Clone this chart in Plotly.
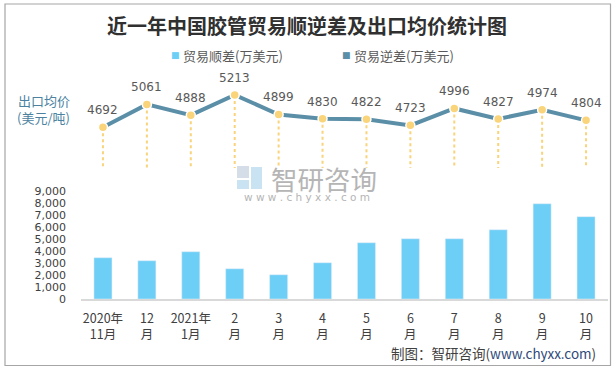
import plotly.graph_objects as go

# ---------------- data ----------------
categories = ["2020年<br>11月", "12<br>月", "2021年<br>1月", "2<br>月", "3<br>月", "4<br>月",
              "5<br>月", "6<br>月", "7<br>月", "8<br>月", "9<br>月", "10<br>月"]
surplus = [3440, 3190, 3940, 2520, 2020, 3020, 4690, 5020, 5020, 5770, 7940, 6860]   # 贸易顺差(万美元)
export_price = [4692, 5061, 4888, 5213, 4899, 4830, 4822, 4723, 4996, 4827, 4974, 4804]  # 出口均价(美元/吨)
y_ticks = [0, 1000, 2000, 3000, 4000, 5000, 6000, 7000, 8000, 9000]
y_tick_text = ["0", "1,000", "2,000", "3,000", "4,000", "5,000", "6,000", "7,000", "8,000", "9,000"]
series_names = ["贸易顺差(万美元)", "贸易逆差(万美元)"]
DROP_BASE = 4035  # value where the drop lines end on the price axis

BAR_COLOR = "#6DCFF6"
LINE_COLOR = "#5B8FA8"
MARKER_COLOR = "#F9D47A"
CJK = "Noto Sans CJK SC"

fig = go.Figure()

fig.add_trace(go.Bar(
    x=categories, y=surplus, marker_color=BAR_COLOR, width=0.41,
    name=series_names[0], showlegend=False, yaxis="y",
))

# drop lines
for c, v in zip(categories, export_price):
    fig.add_trace(go.Scatter(
        x=[c, c], y=[v, DROP_BASE], mode="lines", yaxis="y2",
        line=dict(color=MARKER_COLOR, width=2, dash="dot"),
        showlegend=False, hoverinfo="skip",
    ))

fig.add_trace(go.Scatter(
    x=categories, y=export_price, mode="lines+markers", yaxis="y2",
    line=dict(color=LINE_COLOR, width=4),
    marker=dict(color=MARKER_COLOR, size=9, line=dict(color="white", width=1.5)),
    name=series_names[1], showlegend=False,
))

annotations = []
for c, v in zip(categories, export_price):
    annotations.append(dict(
        x=c, y=v, xref="x", yref="y2", text=str(v), showarrow=False, yshift=17,
        xanchor="center", yanchor="middle",
        font=dict(family="DejaVu Sans", size=12, color="#595959"),
    ))

# paper coordinate helpers (plot area: x 81..608, y 80..299)
def px(x):
    return (x - 81) / 527.0

def py(y):
    return (299 - y) / 219.0

def note(x, y, text, size, color, family=CJK, xanchor="center"):
    annotations.append(dict(
        x=px(x), y=py(y), xref="paper", yref="paper", showarrow=False,
        xanchor=xanchor, yanchor="middle", text=text,
        font=dict(family=family, size=size, color=color),
    ))

# title
note(306.5, 26, "<b>近一年中国胶管贸易顺逆差及出口均价统计图</b>", 20, "#303030")
# legend
note(175, 55.5, "■", 9, BAR_COLOR, family="DejaVu Sans")
note(181, 55.5, series_names[0], 13, "#595959", xanchor="left")
note(346.5, 55.5, "■", 9, LINE_COLOR, family="DejaVu Sans")
note(352, 55.5, series_names[1], 13, "#595959", xanchor="left")
# price axis caption
note(16, 100, "出口均价", 13, "#4A82A0", xanchor="left")
note(15, 117, "(美元/吨)", 13, "#4A82A0", xanchor="left")
# watermark
note(269, 178, "智研咨询", 26.5, "#B5B5B5", xanchor="left")
note(307, 197, "w w w . c h y x x . c o m", 10.5, "#B5B5B5", family="DejaVu Sans")
# source
note(598, 353, "制图：智研咨询(<span style='color:#2F4A7A'>www.chyxx.com</span>)", 13.5, "#404040",
     xanchor="right")

shapes = [
    # outer border
    dict(type="rect", xref="paper", yref="paper", x0=px(5), x1=px(610.5), y0=py(365.5), y1=py(4),
         line=dict(color="#A6A6A6", width=1.2), fillcolor="rgba(0,0,0,0)", layer="below"),
    # watermark logo (approximate)
    dict(type="rect", xref="paper", yref="paper", x0=px(237), x1=px(249), y0=py(178), y1=py(166),
         line=dict(width=0), fillcolor="#D5DDE8", layer="below"),
    dict(type="rect", xref="paper", yref="paper", x0=px(251), x1=px(262), y0=py(189), y1=py(167),
         line=dict(width=0), fillcolor="#C9E3F3", layer="below"),
    dict(type="rect", xref="paper", yref="paper", x0=px(237), x1=px(249), y0=py(189), y1=py(180),
         line=dict(width=0), fillcolor="#C9E3F3", layer="below"),
]

fig.update_layout(
    width=614, height=370,
    margin=dict(l=81, r=6, t=80, b=71, autoexpand=False),
    paper_bgcolor="white", plot_bgcolor="white",
    font=dict(family=CJK, color="#404040"),
    showlegend=False,
    xaxis=dict(
        type="category", showgrid=False, zeroline=False, automargin=False,
        range=[-0.5, len(categories) - 0.5],
        showline=True, linecolor="#D9D9D9", linewidth=1.5,
        ticks="", tickfont=dict(family=CJK, size=12.5, color="#404040"),
        ticklabelstandoff=7,
    ),
    yaxis=dict(
        range=[0, 18250], tickvals=y_ticks, ticktext=y_tick_text, automargin=False,
        showgrid=False, zeroline=False, showline=False, ticks="",
        tickfont=dict(family="DejaVu Sans", size=11, color="#404040"),
        ticklabelstandoff=14,
    ),
    yaxis2=dict(
        range=[1922, 5455], overlaying="y", side="right", visible=False, automargin=False,
    ),
    annotations=annotations,
    shapes=shapes,
)

fig.write_html("out.html", config={"displayModeBar": False},
               post_script="document.body.style.margin='0px';")
